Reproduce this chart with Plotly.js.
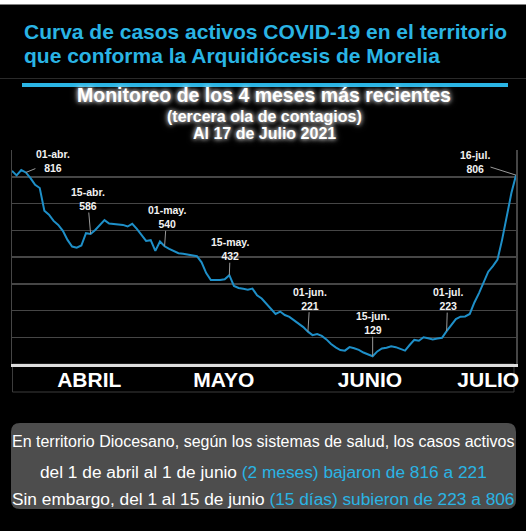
<!DOCTYPE html>
<html>
<head>
<meta charset="utf-8">
<script src="https://cdn.plot.ly/plotly-3.0.1.min.js"></script>
<style>
  html, body { margin: 0; padding: 0; background: #000; }
  #chart { width: 526px; height: 531px; }
</style>
</head>
<body>
<div id="chart"></div>
<script>
// ---- Data ----
const dates = [
  '2021-03-29','2021-03-30','2021-03-31',
  '2021-04-01','2021-04-02','2021-04-03','2021-04-04','2021-04-05','2021-04-06','2021-04-07','2021-04-08','2021-04-09','2021-04-10',
  '2021-04-11','2021-04-12','2021-04-13','2021-04-14','2021-04-15','2021-04-16','2021-04-17','2021-04-18','2021-04-19','2021-04-20',
  '2021-04-21','2021-04-22','2021-04-23','2021-04-24','2021-04-25','2021-04-26','2021-04-27','2021-04-28','2021-04-29','2021-04-30',
  '2021-05-01','2021-05-02','2021-05-03','2021-05-04','2021-05-05','2021-05-06','2021-05-07','2021-05-08','2021-05-09','2021-05-10',
  '2021-05-11','2021-05-12','2021-05-13','2021-05-14','2021-05-15','2021-05-16','2021-05-17','2021-05-18','2021-05-19','2021-05-20',
  '2021-05-21','2021-05-22','2021-05-23','2021-05-24','2021-05-25','2021-05-26','2021-05-27','2021-05-28','2021-05-29','2021-05-30','2021-05-31',
  '2021-06-01','2021-06-02','2021-06-03','2021-06-04','2021-06-05','2021-06-06','2021-06-07','2021-06-08','2021-06-09','2021-06-10',
  '2021-06-11','2021-06-12','2021-06-13','2021-06-14','2021-06-15','2021-06-16','2021-06-17','2021-06-18','2021-06-19','2021-06-20',
  '2021-06-21','2021-06-22','2021-06-23','2021-06-24','2021-06-25','2021-06-26','2021-06-27','2021-06-28','2021-06-29','2021-06-30',
  '2021-07-01','2021-07-02','2021-07-03','2021-07-04','2021-07-05','2021-07-06','2021-07-07','2021-07-08','2021-07-09','2021-07-10',
  '2021-07-11','2021-07-12','2021-07-13','2021-07-14','2021-07-15','2021-07-16'
];
const activeCases = [
  822,805,825,
  816,795,770,758,673,658,635,620,598,564,
  539,535,543,589,586,601,620,638,625,623,
  623,620,614,624,605,583,560,563,523,558,
  540,530,523,514,512,509,505,503,480,440,
  414,414,414,417,432,392,384,381,378,382,
  357,345,325,303,287,296,283,276,264,251,238,
  221,208,212,205,192,175,162,152,150,163,
  159,153,143,136,129,147,158,161,166,163,
  157,150,171,190,187,200,196,192,195,198,
  223,246,268,277,278,287,330,365,408,445,
  466,490,565,648,739,806
];

// Labelled points
const labelDates  = ['2021-04-01','2021-04-15','2021-05-01','2021-05-15','2021-06-01','2021-06-15','2021-07-01','2021-07-16'];
const labelNames  = ['01-abr.','15-abr.','01-may.','15-may.','01-jun.','15-jun.','01-jul.','16-jul.'];
const labelValues = [816, 586, 540, 432, 221, 129, 223, 806];

// Month labels under the axis
const monthTickDates = ['2021-04-14 17:00','2021-05-13 19:00','2021-06-14 10:00','2021-07-10 00:00'];
const monthTickText  = ['ABRIL','MAYO','JUNIO','JULIO'];

// Text
const titleLines = ['Curva de casos activos COVID-19 en el territorio', 'que conforma la Arquidiócesis de Morelia'];
const subTitleLines = ['Monitoreo de los 4 meses más recientes', '(tercera ola de contagios)', 'Al 17 de Julio 2021'];
const CYAN = '#2ab4e4';
const noteLines = [
  'En territorio Diocesano, según los sistemas de salud, los casos activos',
  'del 1 de abril al 1 de junio <span style="color:' + CYAN + '">(2 meses) bajaron de 816 a 221</span>',
  'Sin embargo, del 1 al 15 de junio <span style="color:' + CYAN + '">(15 días) subieron de 223 a 806</span>'
];

// ---- Layout helpers (pixel -> paper) ----
const W = 526, H = 531;
const M = {l: 12, r: 10, t: 150, b: 167};
const PW = W - M.l - M.r, PH = H - M.t - M.b;
const px = x => (x - M.l) / PW;
const py = y => (H - M.b - y) / PH;

const FONT = 'Liberation Sans, Arial, sans-serif';

// label offsets (pixels) for each labelled point
const labelOffsets = [[27,-11],[-3,-35],[2,-29],[1,-26],[2,-33],[0,-33],[1,-32],[-41,-13]];

const annotations = [];
labelDates.forEach((d, i) => {
  annotations.push({
    x: d, y: labelValues[i], xref: 'x', yref: 'y',
    text: labelNames[i] + '<br>' + labelValues[i],
    showarrow: true, arrowhead: 0, arrowwidth: 1, arrowcolor: '#9a9a9a',
    ax: labelOffsets[i][0], ay: labelOffsets[i][1],
    font: {family: FONT, size: 10.5, color: '#f2f2f2', weight: 'bold'},
    align: 'center', borderpad: 0
  });
});

// Title lines
const titleY = [31.5, 55];
titleLines.forEach((t, i) => {
  annotations.push({
    x: px(22), y: py(titleY[i]), xref: 'paper', yref: 'paper',
    xanchor: 'left', yanchor: 'middle', showarrow: false,
    text: t, font: {family: FONT, size: 21, color: CYAN, weight: 'bold'}
  });
});

// Subtitle lines (glowing white)
const subY = [95, 116, 133];
const subSize = [19.5, 16, 16];
subTitleLines.forEach((t, i) => {
  annotations.push({
    x: px(264), y: py(subY[i]), xref: 'paper', yref: 'paper',
    xanchor: 'center', yanchor: 'middle', showarrow: false,
    text: t, font: {family: FONT, size: subSize[i], color: '#ffffff', weight: 'bold',
      shadow: '0px 0px 4px rgba(255,255,255,0.95), 0px 0px 7px rgba(255,255,255,0.6)'}
  });
});

// Note lines at the bottom
const noteY = [441.5, 471.5, 499];
const noteSize = [16, 17.3, 17.3];
noteLines.forEach((t, i) => {
  annotations.push({
    x: px(263), y: py(noteY[i]), xref: 'paper', yref: 'paper',
    xanchor: 'center', yanchor: 'middle', showarrow: false,
    text: t, font: {family: FONT, size: noteSize[i], color: '#ffffff'}
  });
});

// rounded box path in paper coords
function roundRect(x0, y0, x1, y1, r) {
  const X = v => px(v), Y = v => py(v);
  return 'M ' + X(x0 + r) + ',' + Y(y0) +
    ' L ' + X(x1 - r) + ',' + Y(y0) +
    ' Q ' + X(x1) + ',' + Y(y0) + ' ' + X(x1) + ',' + Y(y0 + r) +
    ' L ' + X(x1) + ',' + Y(y1 - r) +
    ' Q ' + X(x1) + ',' + Y(y1) + ' ' + X(x1 - r) + ',' + Y(y1) +
    ' L ' + X(x0 + r) + ',' + Y(y1) +
    ' Q ' + X(x0) + ',' + Y(y1) + ' ' + X(x0) + ',' + Y(y1 - r) +
    ' L ' + X(x0) + ',' + Y(y0 + r) +
    ' Q ' + X(x0) + ',' + Y(y0) + ' ' + X(x0 + r) + ',' + Y(y0) + ' Z';
}

const shapes = [
  // white strip at the very top
  {type: 'rect', xref: 'paper', yref: 'paper', x0: px(0), x1: px(526), y0: py(0), y1: py(4.5),
   fillcolor: '#ffffff', line: {width: 0}, layer: 'below'},
  // cyan underline of the title
  {type: 'rect', xref: 'paper', yref: 'paper', x0: px(22), x1: px(508), y0: py(83), y1: py(87),
   fillcolor: CYAN, line: {width: 0}},
  // faint separator line
  {type: 'line', xref: 'paper', yref: 'paper', x0: px(0), x1: px(526), y0: py(78.5), y1: py(78.5),
   line: {color: '#2a2a2a', width: 1}, layer: 'below'},
  // frame around the month label band
  {type: 'rect', xref: 'paper', yref: 'paper', x0: px(12.5), x1: px(514), y0: py(364), y1: py(392),
   fillcolor: 'rgba(0,0,0,0)', line: {color: '#3c3c3c', width: 1}, layer: 'below'},
  // grey note box
  {type: 'path', xref: 'paper', yref: 'paper', path: roundRect(11, 423, 516, 509, 9),
   fillcolor: '#4d4d4d', line: {width: 0}, layer: 'below'}
];

const trace = {
  x: dates, y: activeCases, type: 'scatter', mode: 'lines',
  line: {color: '#1e8fc8', width: 2}, hoverinfo: 'skip'
};

const layout = {
  width: W, height: H,
  margin: M,
  paper_bgcolor: '#000000', plot_bgcolor: '#000000',
  showlegend: false,
  xaxis: {
    type: 'date', range: ['2021-03-29', '2021-07-16'],
    showgrid: false, zeroline: false,
    showline: true, linecolor: '#dedede', linewidth: 3,
    ticks: '', tickmode: 'array', tickvals: monthTickDates, ticktext: monthTickText,
    ticklabelstandoff: -5,
    tickfont: {family: FONT, size: 21, color: '#ffffff', weight: 'bold'},
    fixedrange: true
  },
  yaxis: {
    range: [100, 900], tick0: 100, dtick: 100,
    showgrid: true, gridcolor: '#464646', gridwidth: 1.5,
    zeroline: false, showticklabels: false, ticks: '',
    showline: true, mirror: true, linecolor: '#464646', linewidth: 1.5,
    fixedrange: true
  },
  annotations: annotations,
  shapes: shapes
};

Plotly.newPlot('chart', [trace], layout, {displayModeBar: false, staticPlot: true});
</script>
</body>
</html>
